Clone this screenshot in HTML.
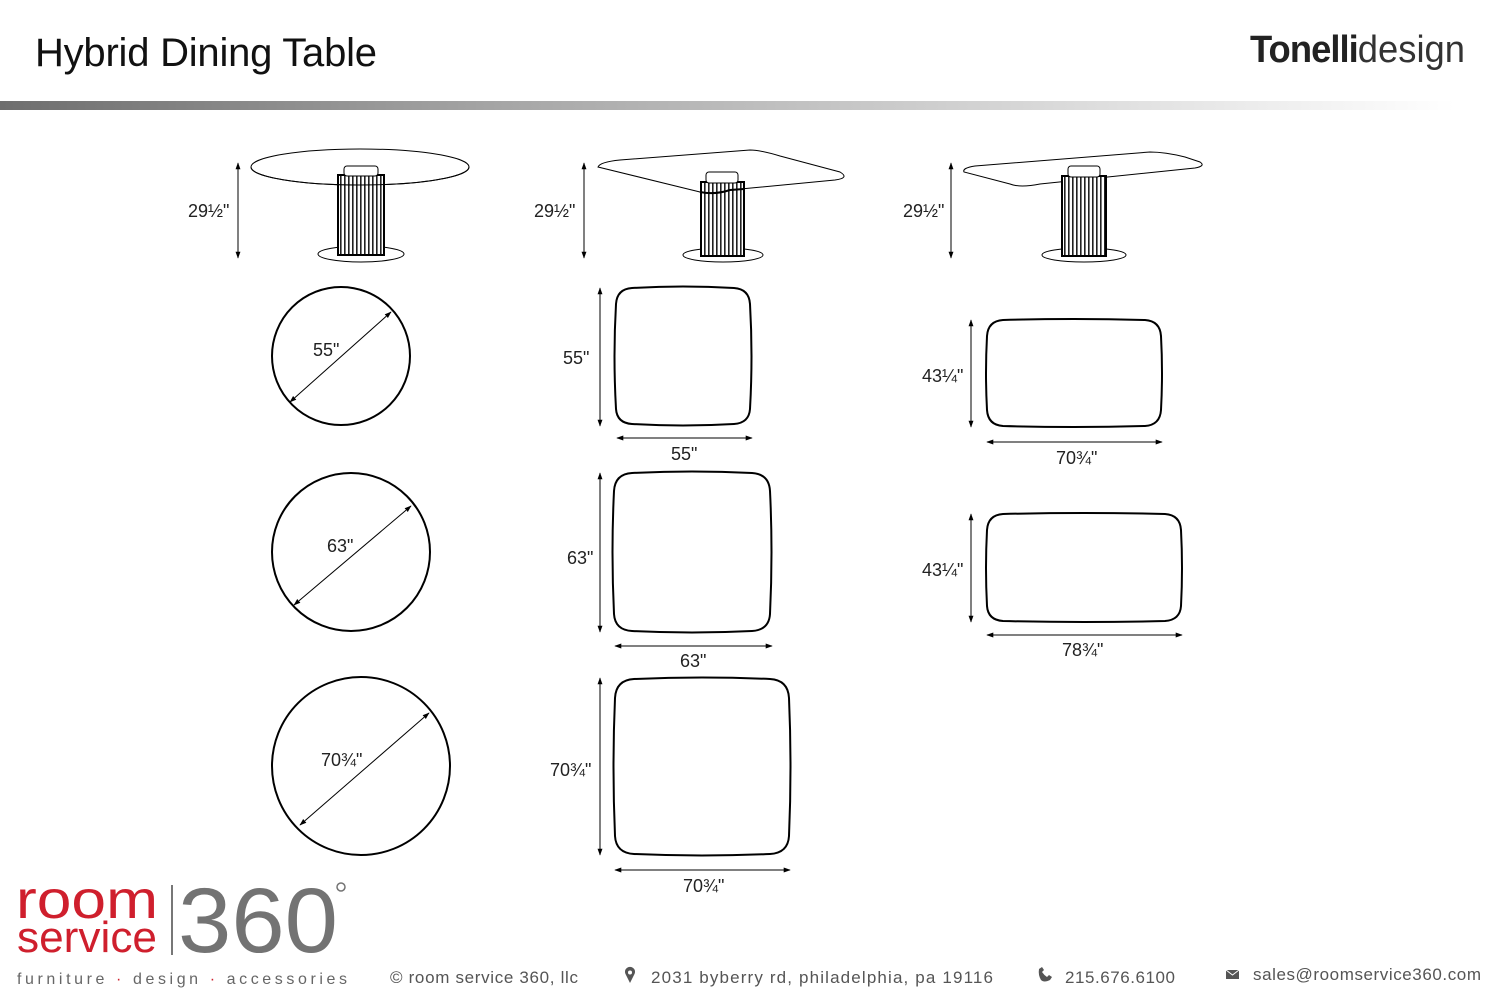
<!DOCTYPE html>
<html><head><meta charset="utf-8"><style>
html,body{margin:0;padding:0;background:#fff}
svg{display:block}
text{font-family:"Liberation Sans",sans-serif}
</style></head><body>
<svg width="1500" height="1000" viewBox="0 0 1500 1000" xmlns="http://www.w3.org/2000/svg">
<defs>
<linearGradient id="bar" x1="0" x2="1" y1="0" y2="0">
<stop offset="0" stop-color="#6e6e6e"/><stop offset="0.35" stop-color="#a8a8a8"/><stop offset="0.97" stop-color="#fff"/></linearGradient>
<pattern id="stripe" width="4" height="10" patternUnits="userSpaceOnUse">
<rect width="4" height="10" fill="#fff"/><rect width="1.6" height="10" fill="#222"/></pattern>
<marker id="a" viewBox="0 0 10 10" refX="9" refY="5" markerWidth="7" markerHeight="7" orient="auto-start-reverse"><path d="M0,1.5 L10,5 L0,8.5 z" fill="#000"/></marker>
</defs>
<text x="35" y="66" font-size="40" fill="#111" textLength="342">Hybrid Dining Table</text>
<text x="1250" y="62" font-size="38" fill="#222" textLength="215" lengthAdjust="spacingAndGlyphs"><tspan font-weight="bold" letter-spacing="-1">Tonelli</tspan><tspan fill="#333">design</tspan></text>
<rect x="0" y="101" width="1500" height="9" fill="url(#bar)"/>

<g stroke="#000" fill="none" stroke-width="1">
<ellipse cx="360" cy="167" rx="109" ry="18"/>
<ellipse cx="361" cy="254" rx="43" ry="8" fill="#fff"/>
<rect x="338" y="175" width="46" height="80" fill="url(#stripe)" stroke-width="2"/>
<rect x="344" y="166" width="34" height="10" fill="#fff" rx="3"/>
<path d="M251,167 A109,18 0 0 0 469,167"/>
<path d="M598,167 Q600,162 620,160 L750,150 Q760,150 780,156 L840,172 Q850,178 835,180 L730,190 Q715,195 700,192 Z"/>
<ellipse cx="723" cy="255" rx="40" ry="7" fill="#fff"/>
<rect x="701" y="182" width="43" height="74" fill="url(#stripe)" stroke-width="2"/>
<rect x="706" y="172" width="32" height="11" fill="#fff" rx="3"/>
<path d="M700,192 Q715,195 730,190 L744,189" stroke-width="2"/>
<path d="M964,172 Q962,168 975,166 L1150,152 Q1165,152 1185,157 L1200,162 Q1206,166 1195,168 L1040,184 Q1020,188 1010,184 Z"/>
<ellipse cx="1084" cy="255" rx="42" ry="7" fill="#fff"/>
<rect x="1062" y="176" width="44" height="80" fill="url(#stripe)" stroke-width="2"/>
<rect x="1068" y="166" width="32" height="11" fill="#fff" rx="3"/>

<g stroke-width="2">
<circle cx="341" cy="356" r="69"/>
<circle cx="351" cy="552" r="79"/>
<circle cx="361" cy="766" r="89"/>
</g>
<line x1="290" y1="402" x2="391" y2="312" marker-start="url(#a)" marker-end="url(#a)"/>
<line x1="294" y1="605" x2="411" y2="506" marker-start="url(#a)" marker-end="url(#a)"/>
<line x1="300" y1="825" x2="429" y2="713" marker-start="url(#a)" marker-end="url(#a)"/>

<g stroke-width="2">
<path d="M632,288 Q683,285 734,288 Q749,289 750,304 Q753,356 750,409 Q749,423 734,424 Q683,427 632,424 Q617,423 616,409 Q613,356 616,304 Q617,289 632,288 Z"/>
<path d="M632,473 Q692,470 752,473 Q769,474 770,491 Q773,552 770,614 Q769,630 752,631 Q692,634 632,631 Q615,630 614,614 Q611,552 614,491 Q615,474 632,473 Z"/>
<path d="M634,679 Q702,676 770,679 Q788,680 789,698 Q792,767 789,836 Q788,853 770,854 Q702,857 634,854 Q616,853 615,836 Q612,767 615,698 Q616,680 634,679 Z"/>
<path d="M1003,320 Q1074,318 1145,320 Q1160,321 1161,336 Q1163,373 1161,410 Q1160,425 1145,426 Q1074,428 1003,426 Q988,425 987,410 Q985,373 987,336 Q988,321 1003,320 Z"/>
<path d="M1003,514 Q1084,512 1165,514 Q1180,515 1181,530 Q1183,568 1181,606 Q1180,620 1165,621 Q1084,623 1003,621 Q988,620 987,606 Q985,568 987,530 Q988,515 1003,514 Z"/>
</g>
<g marker-start="url(#a)" marker-end="url(#a)">
<line x1="238" y1="163" x2="238" y2="258"/>
<line x1="584" y1="163" x2="584" y2="258"/>
<line x1="951" y1="163" x2="951" y2="258"/>
<line x1="600" y1="288" x2="600" y2="426"/>
<line x1="617" y1="438" x2="752" y2="438"/>
<line x1="600" y1="473" x2="600" y2="632"/>
<line x1="615" y1="646" x2="772" y2="646"/>
<line x1="600" y1="678" x2="600" y2="855"/>
<line x1="615" y1="870" x2="790" y2="870"/>
<line x1="971" y1="320" x2="971" y2="427"/>
<line x1="987" y1="442" x2="1162" y2="442"/>
<line x1="971" y1="514" x2="971" y2="622"/>
<line x1="987" y1="635" x2="1182" y2="635"/>
</g>
</g>

<g font-size="18" fill="#222">
<text x="188" y="217">29½"</text>
<text x="534" y="217">29½"</text>
<text x="903" y="217">29½"</text>
<text x="313" y="356">55"</text>
<text x="327" y="552">63"</text>
<text x="321" y="766">70¾"</text>
<text x="563" y="364">55"</text>
<text x="671" y="460">55"</text>
<text x="567" y="564">63"</text>
<text x="680" y="667">63"</text>
<text x="550" y="776">70¾"</text>
<text x="683" y="892">70¾"</text>
<text x="922" y="382">43¼"</text>
<text x="1056" y="464">70¾"</text>
<text x="922" y="576">43¼"</text>
<text x="1062" y="656">78¾"</text>
</g>

<text x="16" y="918" font-size="54" fill="#cf1f2d" textLength="142" lengthAdjust="spacingAndGlyphs">room</text>
<text x="17" y="952" font-size="44" fill="#cf1f2d" textLength="140" lengthAdjust="spacingAndGlyphs">service</text>
<rect x="171" y="885" width="2" height="70" fill="#777"/>
<text x="178" y="952" font-size="92" fill="#737373" textLength="160" lengthAdjust="spacingAndGlyphs">360</text>
<circle cx="341" cy="887" r="4" fill="none" stroke="#737373" stroke-width="1.5"/>
<text x="17" y="984" font-size="16" fill="#666" textLength="330">furniture <tspan fill="#cf1f2d">·</tspan> design <tspan fill="#cf1f2d">·</tspan> accessories</text>
<g font-size="17" fill="#555">
<text x="390" y="983" textLength="188">© room service 360, llc</text>
<text x="651" y="983" textLength="342">2031 byberry rd, philadelphia, pa 19116</text>
<text x="1065" y="983" textLength="110">215.676.6100</text>
<text x="1253" y="980" textLength="228">sales@roomservice360.com</text>
</g>
<path d="M630,983 L625.5,974 A5,5 0 1 1 634.5,974 Z" fill="#555"/>
<circle cx="630" cy="972.5" r="2" fill="#fff"/>
<path d="M1041,980 q3,3 9,-0 l2,-3 -3,-2 -2,2 q-3,-2 -5,-5 l2,-2 -2,-3 -3,2 q-1,6 2,11z" fill="#555"/>
<rect x="1226" y="970" width="13" height="9" fill="#555"/>
<path d="M1226,970 L1232.5,975 L1239,970" stroke="#fff" fill="none"/>
</svg>
</body></html>
